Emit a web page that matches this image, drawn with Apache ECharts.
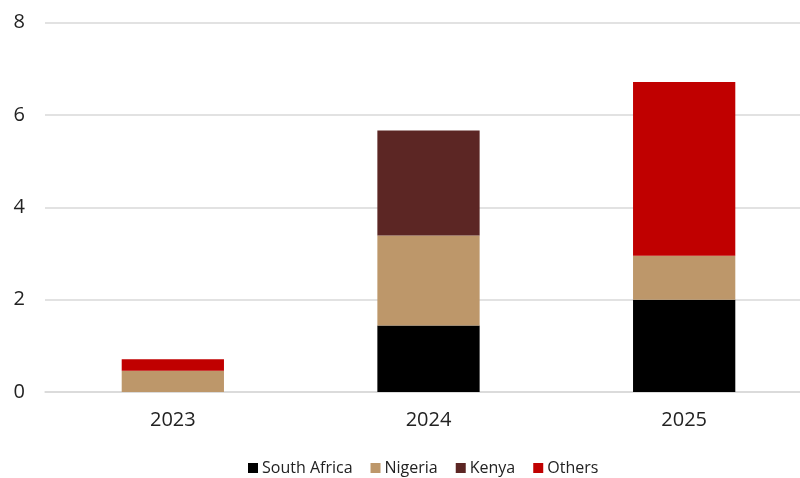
<!DOCTYPE html>
<html>
<head>
<meta charset="utf-8">
<script src="https://cdn.jsdelivr.net/npm/echarts@6/dist/echarts.min.js"></script>
<style>
  html, body { margin: 0; padding: 0; background: #ffffff; overflow: hidden; }
  /* the plot area runs a little past the right edge of the window */
  #chart { width: 812px; height: 478px; }
</style>
</head>
<body>
<div id="chart"></div>
<script>
// Categories and stacked values per region
const years = ['2023', '2024', '2025'];
const southAfrica = [0, 1.44, 2.0];
const nigeria = [0.46, 1.95, 0.95];
const kenya = [0, 2.27, 0];
const others = [0.25, 0, 3.76];

const yTicks = { min: 0, max: 8, interval: 2 };

const font = '"Open Sans", "Noto Sans", sans-serif';

function bar(name, data, color) {
  return {
    name: name,
    type: 'bar',
    stack: 'total',
    data: data,
    barWidth: '40%',
    itemStyle: { color: color },
    emphasis: { disabled: true }
  };
}

const chart = echarts.init(document.getElementById('chart'), null, { renderer: 'canvas' });
chart.setOption({
  animation: false,
  backgroundColor: '#ffffff',
  grid: { left: 45, right: 0, top: 22.5, bottom: 86, containLabel: false },
  legend: {
    top: 455,
    left: 243,
    itemWidth: 10,
    itemHeight: 10,
    itemGap: 18,
    icon: 'rect',
    textStyle: { fontFamily: font, fontSize: 16, color: '#222', padding: [0, 0, 0, -1] },
    data: ['South Africa', 'Nigeria', 'Kenya', 'Others']
  },
  xAxis: {
    type: 'category',
    data: years,
    axisLine: { show: true, lineStyle: { color: '#d9d9d9', width: 1.5 } },
    axisTick: { show: false },
    axisLabel: { fontFamily: font, fontSize: 20, color: '#222', margin: 18 }
  },
  yAxis: {
    type: 'value',
    min: yTicks.min,
    max: yTicks.max,
    interval: yTicks.interval,
    axisLine: { show: false },
    axisTick: { show: false },
    splitLine: { lineStyle: { color: '#d9d9d9', width: 1.5 } },
    axisLabel: { fontFamily: font, fontSize: 20, color: '#222', margin: 20 }
  },
  series: [
    bar('South Africa', southAfrica, '#000000'),
    bar('Nigeria', nigeria, '#bd976a'),
    bar('Kenya', kenya, '#5c2624'),
    bar('Others', others, '#c00000')
  ]
});
</script>
</body>
</html>
